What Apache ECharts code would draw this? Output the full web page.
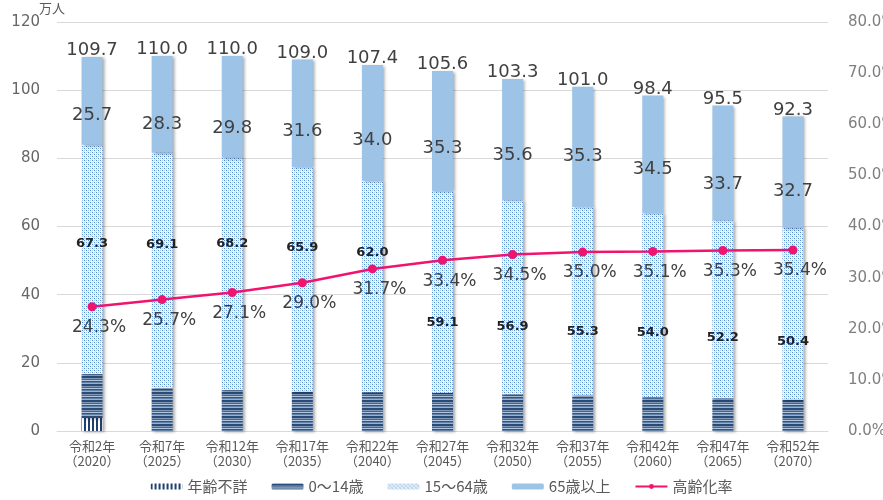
<!DOCTYPE html>
<html>
<head>
<meta charset="utf-8">
<script src="https://cdn.jsdelivr.net/npm/echarts@6/dist/echarts.min.js"></script>
<style>
html,body{margin:0;padding:0;background:#fff;}
#chart{width:883px;height:500px;}
</style>
</head>
<body>
<div id="chart"></div>
<script>
// ---- data ----
const categories = ['令和2年\n（2020）','令和7年\n（2025）','令和12年\n（2030）','令和17年\n（2035）','令和22年\n（2040）','令和27年\n（2045）','令和32年\n（2050）','令和37年\n（2055）','令和42年\n（2060）','令和47年\n（2065）','令和52年\n（2070）'];
const unknownAge = [3.8, 0, 0, 0, 0, 0, 0, 0, 0, 0, 0];
const age0to14 = [12.9, 12.6, 12.0, 11.5, 11.4, 11.2, 10.8, 10.4, 9.9, 9.6, 9.2];
const age15to64 = [67.3, 69.1, 68.2, 65.9, 62.0, 59.1, 56.9, 55.3, 54.0, 52.2, 50.4];
const age65plus = [25.7, 28.3, 29.8, 31.6, 34.0, 35.3, 35.6, 35.3, 34.5, 33.7, 32.7];
const totals = [109.7, 110.0, 110.0, 109.0, 107.4, 105.6, 103.3, 101.0, 98.4, 95.5, 92.3];
const agingRate = [24.3, 25.7, 27.1, 29.0, 31.7, 33.4, 34.5, 35.0, 35.1, 35.3, 35.4];
const leftTicks = [0, 20, 40, 60, 80, 100, 120];
const rightTicks = [0, 10, 20, 30, 40, 50, 60, 70, 80];

// ---- label placement (style, fraction of segment height from top) ----
const pos65 = [0.67, 0.71, 0.71, 0.67, 0.65, 0.64, 0.63, 0.58, 0.63, 0.69, 0.67];
const pos1564 = [0.43, 0.39, 0.37, 0.36, 0.34, 0.65, 0.65, 0.66, 0.65, 0.66, 0.66];

// ---- patterns ----
function pattern(w, h, draw) {
  const c = document.createElement('canvas');
  c.width = w; c.height = h;
  const g = c.getContext('2d');
  draw(g);
  return { image: c, repeat: 'repeat' };
}
const vStripe = pattern(4, 4, g => {
  g.fillStyle = '#ffffff'; g.fillRect(0, 0, 4, 4);
  g.fillStyle = '#1f3f6e'; g.fillRect(0, 0, 2, 4);
});
const hStripe = pattern(4, 8, g => {
  const rows = ['#2a4b78', '#2a4b78', '#7f99bb', '#44678f', '#b4c5da', '#34577f', '#5f7fa6', '#9bb1cc'];
  rows.forEach((col, i) => { g.fillStyle = col; g.fillRect(0, i, 4, 1); });
});
const dots = pattern(4, 4, g => {
  g.fillStyle = '#f4f8fd'; g.fillRect(0, 0, 4, 4);
  g.fillStyle = '#4f8bd0'; g.fillRect(0, 0, 1, 1); g.fillRect(2, 2, 1, 1);
  g.fillStyle = '#a8c7eb'; g.fillRect(2, 0, 1, 1); g.fillRect(0, 2, 1, 1);
  g.fillStyle = '#d6e5f6'; g.fillRect(1, 1, 1, 1); g.fillRect(3, 3, 1, 1);
});

const numFont = 'DejaVu Sans';
const cjkFont = '"Noto Sans CJK JP", "Noto Sans", sans-serif';
const shadow = { shadowBlur: 3, shadowColor: 'rgba(0,0,0,0.35)', shadowOffsetX: 2, shadowOffsetY: 1 };
const barW = 21;

const chart = echarts.init(document.getElementById('chart'), null, { renderer: 'canvas' });
chart.setOption({
  animation: false,
  backgroundColor: '#ffffff',
  grid: { left: 57, right: 55, top: 22, bottom: 69, containLabel: false, outerBoundsMode: 'none' },
  legend: {
    data: ['年齢不詳', '0～14歳', '15～64歳', '65歳以上', '高齢化率'],
    bottom: 1, left: 'center',
    itemWidth: 32, itemHeight: 6, itemGap: 24,
    textStyle: { fontFamily: cjkFont, fontSize: 15, color: '#595959' }
  },
  xAxis: {
    type: 'category', data: categories,
    axisLine: { lineStyle: { color: '#d9d9d9', width: 1 } },
    axisTick: { show: false },
    axisLabel: { fontFamily: cjkFont, fontSize: 13, color: '#595959', lineHeight: 15, margin: 8, interval: 0 }
  },
  yAxis: [
    {
      type: 'value', min: leftTicks[0], max: leftTicks[leftTicks.length - 1], interval: 20,
      name: '万人', nameLocation: 'end', nameGap: 4,
      nameTextStyle: { fontFamily: cjkFont, fontSize: 13, color: '#595959', align: 'center', verticalAlign: 'bottom', padding: [0, 0, 0, -10] },
      axisLine: { show: false }, axisTick: { show: false },
      splitLine: { lineStyle: { color: '#d9d9d9', width: 1 } },
      axisLabel: { fontFamily: numFont, fontSize: 15, color: '#666666', margin: 17 }
    },
    {
      type: 'value', min: rightTicks[0], max: rightTicks[rightTicks.length - 1], interval: 10,
      axisLine: { show: false }, axisTick: { show: false }, splitLine: { show: false },
      axisLabel: { fontFamily: numFont, fontSize: 15, color: '#7f7f7f', margin: 20, align: 'left', hideOverlap: false, formatter: v => v.toFixed(1) + '%' }
    }
  ],
  series: [
    {
      name: '年齢不詳', type: 'bar', stack: 'pop', barWidth: barW,
      itemStyle: Object.assign({ color: vStripe }, shadow),
      data: unknownAge
    },
    {
      name: '0～14歳', type: 'bar', stack: 'pop', barWidth: barW,
      itemStyle: Object.assign({ color: hStripe }, shadow),
      data: age0to14
    },
    {
      name: '15～64歳', type: 'bar', stack: 'pop', barWidth: barW,
      itemStyle: Object.assign({ color: dots }, shadow),
      label: { show: true, fontFamily: numFont, fontSize: 13, fontWeight: 'bold', color: '#222222', align: 'center', verticalAlign: 'middle', formatter: p => p.value.toFixed(1) },
      data: age15to64.map((v, i) => ({ value: v, label: { position: ['50%', (pos1564[i] * 100) + '%'] } }))
    },
    {
      name: '65歳以上', type: 'bar', stack: 'pop', barWidth: barW,
      itemStyle: Object.assign({ color: '#9dc3e6' }, shadow),
      label: { show: true, fontFamily: numFont, fontSize: 18, color: '#404040', align: 'center', verticalAlign: 'middle', formatter: p => p.value.toFixed(1) },
      data: age65plus.map((v, i) => ({ value: v, label: { position: ['50%', (pos65[i] * 100) + '%'] } }))
    },
    {
      name: '総数', type: 'line', data: totals, symbol: 'circle', symbolSize: 1, showSymbol: true, silent: true,
      lineStyle: { width: 0, opacity: 0 }, itemStyle: { color: 'rgba(0,0,0,0)' }, z: 5,
      label: { show: true, position: 'top', distance: -3, fontFamily: numFont, fontSize: 18, color: '#404040', formatter: p => p.value.toFixed(1) }
    },
    {
      name: '高齢化率', type: 'line', yAxisIndex: 1, data: agingRate,
      symbol: 'circle', symbolSize: 9, z: 10,
      lineStyle: { color: '#f0146e', width: 2.5 },
      itemStyle: { color: '#f0146e' },
      label: { show: true, position: 'bottom', distance: 8, offset: [7, 0], fontFamily: numFont, fontSize: 17, color: '#404040', formatter: p => p.value.toFixed(1) + '%' }
    }
  ]
});
</script>
</body>
</html>
